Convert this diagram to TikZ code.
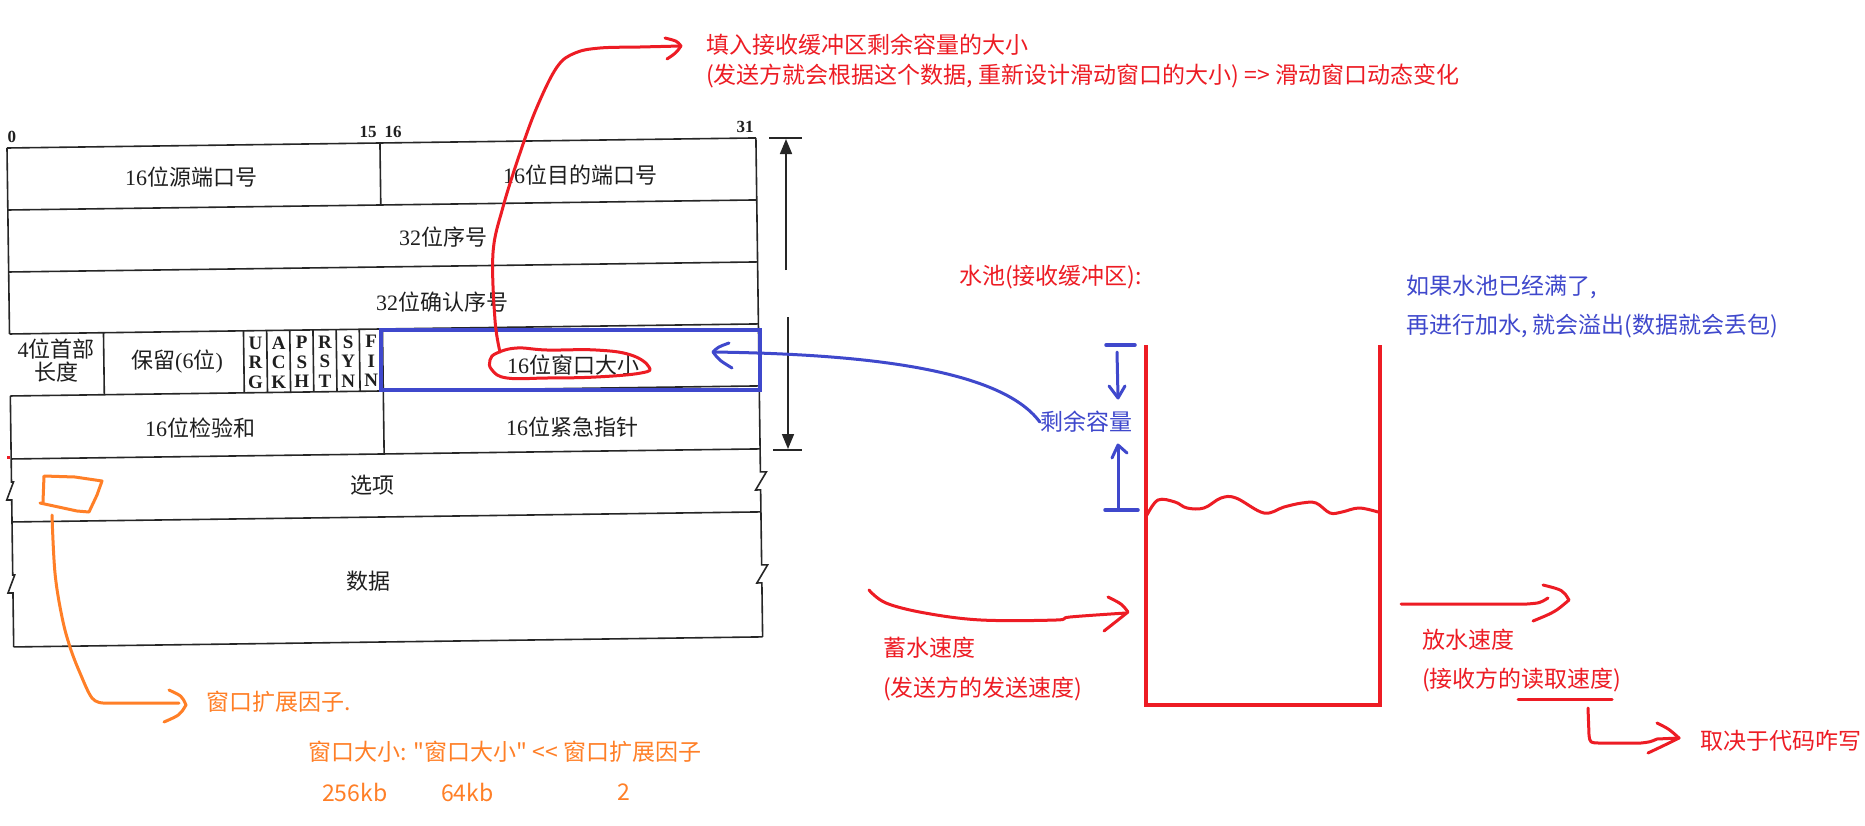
\documentclass[tikz,border=0pt]{standalone}
\usepackage{fontspec}
\setmainfont{Liberation Serif}
\newfontfamily\cjk{Noto Sans CJK SC}
\usetikzlibrary{arrows.meta}
\definecolor{pred}{RGB}{237,28,36}
\definecolor{pblue}{RGB}{63,72,204}
\definecolor{porange}{RGB}{255,127,39}
\newcommand\zh[1]{{\cjk #1}}
\begin{document}
\begin{tikzpicture}[x=1pt,y=-1pt,
  tabline/.style={line width=1.6pt, draw=black!85},
  tabtxt/.style={inner sep=0pt, text=black!88, font=\fontsize{22}{24}\selectfont},
  numlab/.style={inner sep=0pt, text=black!88, font=\bfseries\fontsize{17}{20}\selectfont},
  flagtxt/.style={inner sep=0pt, text=black!88, align=center, font=\bfseries\fontsize{19}{19.5}\selectfont},
  ann/.style={inner sep=0pt, anchor=west, font=\cjk\fontsize{23}{28}\selectfont},
  rann/.style={ann, text=pred},
  bann/.style={ann, text=pblue},
  oann/.style={ann, text=porange},
  rpen/.style={draw=pred, line width=3pt, line cap=round, line join=round},
  bpen/.style={draw=pblue, line width=3pt, line cap=round, line join=round},
  orpen/.style={draw=porange, line width=3pt, line cap=round, line join=round},
]
\fill[white] (0,0) rectangle (1865,825);
\useasboundingbox (0,0) rectangle (1865,825);

% ---------------- TCP header table (slightly tilted scan) ----------------
\begin{scope}[shift={(7,148)}, rotate=0.77]
  \draw[tabline] (0,0) -- (749,0);
  \foreach \v in {62,124,186,248,311,374,499} \draw[tabline] (0,\v) -- (749,\v);
  \draw[tabline] (0,0) -- (0,186);
  \draw[tabline] (0,248) -- (0,334) -- (2,334) -- (-5,352) -- (0,352) -- (0,427) -- (2,427) -- (-5,445) -- (0,445) -- (0,499);
  \draw[tabline] (749,0) -- (749,334) -- (755,334) -- (744,352) -- (749,352) -- (749,427) -- (755,427) -- (744,445) -- (749,445) -- (749,499);
  \draw[tabline] (373,0) -- (373,62);
  \draw[tabline] (373,248) -- (373,311);
  \foreach \u in {94,234,257.2,280.3,303.5,326.7,349.8,373} \draw[tabline] (\u,186) -- (\u,248);
  \node[flagtxt] (fU) at (245.6,218) {U\\R\\G};
  \node[flagtxt] (fA) at (268.8,218) {A\\C\\K};
  \node[flagtxt] (fP) at (291.9,218) {P\\S\\H};
  \node[flagtxt] (fR) at (315.1,218) {R\\S\\T};
  \node[flagtxt] (fS) at (338.3,218) {S\\Y\\N};
  \node[flagtxt] (fF) at (361.4,218) {F\\I\\N};
\end{scope}

\node[numlab] (n0) at (12,137) {0};
\node[numlab] (n15) at (368,132) {15};
\node[numlab] (n16) at (393,132) {16};
\node[numlab] (n31) at (745,127) {31};

\node[tabtxt] (src) at (191,177) {16\zh{位源端口号}};
\node[tabtxt] (dst) at (580,175) {16\zh{位目的端口号}};
\node[tabtxt] (seq) at (443,237) {32\zh{位序号}};
\node[tabtxt] (ack) at (442,302) {32\zh{位确认序号}};
\node[tabtxt, align=center, font=\fontsize{22}{23}\selectfont] (hlen) at (56,361) {4\zh{位首部}\\\zh{长度}};
\node[tabtxt] (rsv) at (177,362) {\zh{保留}(6\zh{位})};
\node[tabtxt] (win) at (573,365) {16\zh{位窗口大小}};
\node[tabtxt] (chk) at (200,428) {16\zh{位检验和}};
\node[tabtxt] (urg) at (572,427) {16\zh{位紧急指针}};
\node[tabtxt] (opt) at (372,485) {\zh{选项}};
\node[tabtxt] (dat) at (368,581) {\zh{数据}};

% double arrow right of the table
\coordinate (dT) at (786,138);
\coordinate (dB) at (788,450);
\draw[tabline] ([xshift=-17pt]dT) -- ([xshift=16pt]dT);
\draw[tabline] ([xshift=-15pt]dB) -- ([xshift=14pt]dB);
\draw[tabline, -{Triangle[length=15pt,width=12pt]}] (786,270) -- ([yshift=-1pt]dT);
\draw[tabline, -{Triangle[length=15pt,width=12pt]}] (788,317) -- ([yshift=1pt]dB);

% stray red dot
\fill[pred] (7,456) rectangle (10,459);

% ---------------- blue marks ----------------
\draw[pblue, line width=4.5pt] (381,330) rectangle (760,390);
\coordinate (wintip) at (713,352);
\node[bann, anchor=center] (rem) at (1086,422) {剩余容量};
\draw[bpen] (rem.west) .. controls (1000,368) and (860,354) .. (wintip);
\draw[bpen, shift={(wintip)}] (16,-9) .. controls (5,-5) .. (0,0) .. controls (6,8) .. (19,16);

\node[bann] (full1) at (1406,287) {如果水池已经满了,};
\node[bann] (full2) at (1406,326) {再进行加水, 就会溢出(数据就会丢包)};

\coordinate (capT) at (1118,345);
\coordinate (capB) at (1118,510);
\draw[bpen, line width=3.5pt] ([xshift=-12pt]capT) -- ([xshift=17pt]capT);
\draw[bpen, line width=3.5pt] ([xshift=-13pt]capB) -- ([xshift=20pt]capB);
\draw[bpen] (1117,352) -- (1118,397);
\draw[bpen] (1109,386) -- (1118,398) -- (1125,386);
\draw[bpen] (capB) -- (1118,447);
\draw[bpen] (1112,458) -- (1118,445) -- (1127,453);

% ---------------- pool ----------------
\node[rann] (pool) at (959,277) {水池(接收缓冲区):};
\draw[pred, line width=4.5pt, line join=miter] (1146,345) -- (1146,705) -- (1380,705) -- (1380,345);
\draw[rpen] plot[smooth, tension=0.6] coordinates {(1147,515) (1158,500) (1175,502) (1187,508) (1204,508) (1221,498) (1236,498) (1264,513) (1284,507) (1302,503) (1316,503) (1330,513) (1342,512) (1359,508) (1378,512)};

% inflow
\node[rann] (in1) at (883,648) {蓄水速度};
\node[rann] (in2) at (883,689) {(发送方的发送速度)};
\coordinate (inS) at (869,590);
\coordinate (inT) at (1128,612);
\draw[rpen] plot[smooth, tension=0.6] coordinates {(inS) (886,603) (925,613) (981,620) (1056,620) (1070,617) (1126,613)};
\draw[rpen, shift={(inT)}] (-20,-15) .. controls (-6,-8) .. (0,0) .. controls (-10,8) .. (-24,19);

% outflow
\node[rann] (out1) at (1422,640) {放水速度};
\node[rann] (out2) at (1422,680) {(接收方的读取速度)};
\coordinate (outS) at (1401,604);
\coordinate (outT) at (1569,600);
\draw[rpen] (outS) -- (1527,604) .. controls (1540,603) .. (1548,598);
\draw[rpen, shift={(outT)}] (-26,-15) .. controls (-6,-10) .. (0,0) .. controls (-14,12) .. (-36,21);

\coordinate (ulA) at (1518,699);
\coordinate (ulB) at (1612,699);
\draw[rpen] (ulA) -- (ulB);
\node[rann] (code) at (1700,741) {取决于代码咋写};
\coordinate (cdT) at (1679,738);
\draw[rpen] (1588,708) -- (1589,735) .. controls (1590,743) .. (1601,743) -- (1641,743) .. controls (1650,742) .. (1657,739) -- (cdT);
\draw[rpen, shift={(cdT)}] (-22,-15) .. controls (-10,-9) .. (0,0) .. controls (-12,6) .. (-31,15);

% ---------------- top red annotation ----------------
\node[rann] (fill1) at (706,45) {填入接收缓冲区剩余容量的大小};
\node[rann] (fill2) at (706,76) {(发送方就会根据这个数据, 重新设计滑动窗口的大小) => 滑动窗口动态变化};
\draw[rpen] plot[smooth cycle, tension=0.7] coordinates {(497,353) (517,348) (547,350) (596,350) (631,355) (649,367) (641,373) (596,377) (547,378) (507,378) (492,370) (490,360)};
\coordinate (ellTL) at (500,352);
\coordinate (topTip) at (681,46);
\draw[rpen] plot[smooth, tension=0.6] coordinates {(ellTL) (495,320) (493,253) (503,207) (520,153) (537,107) (557,67) (575,53) (600,48) (640,47) (topTip)};
\draw[rpen, shift={(topTip)}] (-16,-8) .. controls (-4,-5) .. (0,0) .. controls (-5,7) .. (-14,13);

% ---------------- orange annotation ----------------
\draw[orpen] (43,502) -- (44,476) -- (75,477) -- (102,481) -- (97,495) -- (89,512) -- (77,511) -- (40,503);
\coordinate (oS) at (52,515);
\coordinate (oT) at (186,705);
\draw[orpen] plot[smooth, tension=0.6] coordinates {(oS) (55,573) (62,617) (70,647) (80,673) (92,698) (103,703)} -- (179,703);
\draw[orpen, shift={(oT)}] (-17,-15) .. controls (-4,-9) .. (0,0) .. controls (-6,10) .. (-22,17);
\node[oann] (wsf) at (206,702) {窗口扩展因子.};
\node[oann] (form) at (308,752) {窗口大小: "窗口大小" <{}< 窗口扩展因子};
\node[oann] (v1) at (322,792) {256kb};
\node[oann] (v2) at (441,792) {64kb};
\node[oann, anchor=center] (v3) at (624,792) {2};
\end{tikzpicture}
\end{document}
